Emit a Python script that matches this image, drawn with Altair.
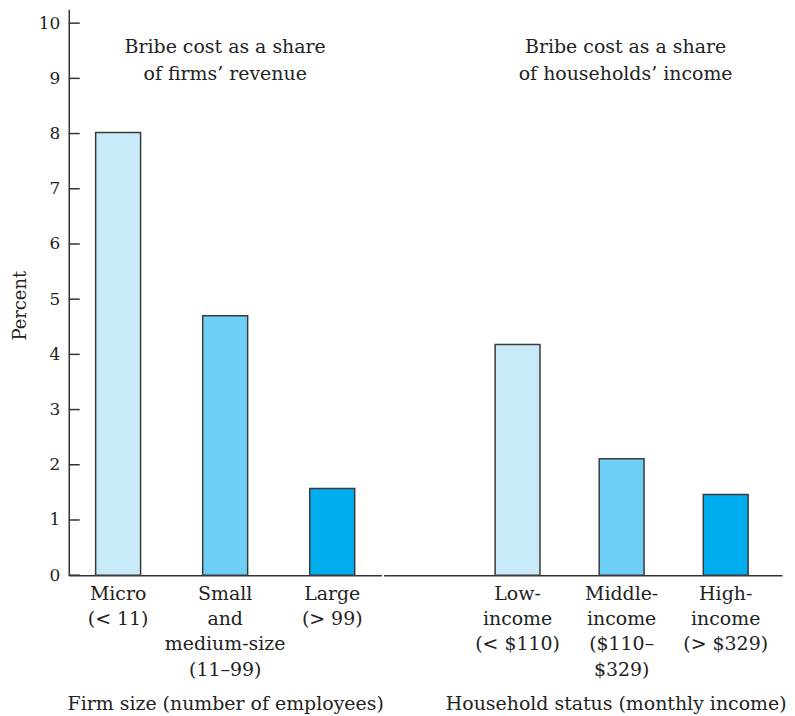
import altair as alt
import pandas as pd

firm_cats = ["Micro|(< 11)", "Small|and|medium-size|(11–99)", "Large|(> 99)"]
firm_vals = [8.02, 4.70, 1.57]
hh_cats = ["Low-|income|(< $110)", "Middle-|income|($110–|$329)", "High-|income|(> $329)"]
hh_vals = [4.18, 2.11, 1.46]
levels = ["low", "mid", "high"]
colors = ["#c7e9f8", "#6dcff6", "#00aeef"]
y_ticks = list(range(0, 11))
firm_note = ["Bribe cost as a share", "of firms’ revenue"]
hh_note = ["Bribe cost as a share", "of households’ income"]

FONT = "DejaVu Serif"
FS = 19
H = 568

firms = pd.DataFrame({"cat": firm_cats, "val": firm_vals, "level": levels})
hh = pd.DataFrame({"cat": hh_cats, "val": hh_vals, "level": levels})
ticks = pd.DataFrame({"t": y_ticks})

yscale = alt.Scale(domain=[0, 10.25], nice=False, zero=True)
cscale = alt.Scale(domain=levels, range=colors)


def xaxis(title, **kw):
    return alt.Axis(
        title=title, labelAngle=0, ticks=False, labelExpr="split(datum.label, '|')",
        labelFont=FONT, labelFontSize=FS, labelColor="#222", labelLineHeight=25.5,
        labelPadding=9, titleFont=FONT, titleFontSize=FS, titleFontWeight="normal",
        titleColor="#222", titlePadding=15, domainColor="#333", domainWidth=1.5,
        labelBaseline="top", **kw)


# Left panel
lx = alt.X("cat:N", sort=firm_cats,
           scale=alt.Scale(paddingInner=0.58, paddingOuter=0.251),
           axis=xaxis("Firm size (number of employees)"))
left_bars = alt.Chart(firms).mark_bar(stroke="#3a3a3a", strokeWidth=1.5).encode(
    x=lx,
    y=alt.Y("val:Q", scale=yscale, axis=alt.Axis(
        title="Percent", values=y_ticks, format="d", ticks=False, grid=False, labelFont=FONT,
        labelFontSize=17, labelColor="#222", labelPadding=9, titleFont=FONT,
        titleFontSize=18, titleFontWeight="normal", titleColor="#222", titlePadding=9,
        titleY=297, domainColor="#333", domainWidth=1.5)),
    color=alt.Color("level:N", scale=cscale, legend=None),
)
left_ticks = alt.Chart(ticks).mark_rule(color="#333", strokeWidth=1.5).encode(
    y=alt.Y("t:Q", scale=yscale), x=alt.value(0), x2=alt.value(11))
left_note = alt.Chart(pd.DataFrame({"a": [0]})).mark_text(
    font=FONT, fontSize=FS, color="#222", baseline="middle", lineHeight=26.5).encode(
    x=alt.datum(firm_cats[1]), y=alt.datum(9.56), text=alt.value(firm_note))
left = alt.layer(left_bars, left_ticks, left_note).properties(width=314, height=H)

# Right panel
rx = alt.X("cat:N", sort=hh_cats,
           scale=alt.Scale(paddingInner=0.569, paddingOuter=0.699, align=0.767),
           axis=xaxis("Household status (monthly income)", titleX=233))
right_bars = alt.Chart(hh).mark_bar(stroke="#3a3a3a", strokeWidth=1.5).encode(
    x=rx,
    y=alt.Y("val:Q", scale=yscale, axis=None),
    color=alt.Color("level:N", scale=cscale, legend=None),
)
right_note = alt.Chart(pd.DataFrame({"a": [0]})).mark_text(
    font=FONT, fontSize=FS, color="#222", baseline="middle", lineHeight=26.5, dx=4).encode(
    x=alt.datum(hh_cats[1]), y=alt.datum(9.56), text=alt.value(hh_note))
right = alt.layer(right_bars, right_note).properties(width=400, height=H)

chart = alt.hconcat(left, right, spacing=0).properties(
    padding={"left": 3, "top": 0, "right": 0, "bottom": 0}
).configure(font=FONT, view=alt.ViewConfig(stroke="transparent", strokeWidth=0))

chart.save("out.html", embed_options={"renderer": "svg", "actions": False})
